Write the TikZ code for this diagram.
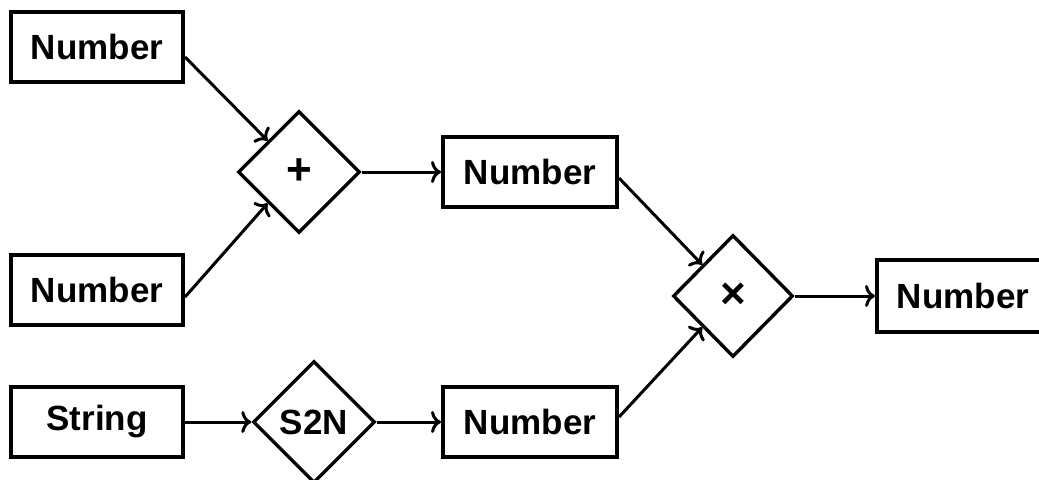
\documentclass[tikz,border=0pt]{standalone}
\usepackage{fontspec}
\setmainfont{Liberation Sans}
\usepackage{tikz}
\usetikzlibrary{shapes.geometric}
\usetikzlibrary{arrows.meta}

\begin{document}
\begin{tikzpicture}[x=0.5pt,y=-0.5pt,
    every node/.style={font=\bfseries\fontsize{17.5}{20}\selectfont, inner sep=0pt},
    box/.style = {rectangle, draw, line width=2pt, minimum width=86pt, minimum height=35pt},
    op/.style = {diamond, draw, line width=1.7pt, minimum width=61pt, minimum height=61pt},
    flow/.style = {draw, line width=1.5pt, -{To[length=5pt,width=11pt]}}]
    \useasboundingbox (0,0) rectangle (1039,479);
    \clip (0,0) rectangle (1039,479);
    % inputs
    \node [box] (numA) at (97,47) {Number};
    \node [box] (numB) at (97,290) {Number};
    \node [box] (str) at (97,422) {String};
    % operators
    \node [op] (plus) at (299,172) {\fontsize{22}{22}\selectfont +};
    \node [op] (conv) at (314,422) {S2N};
    \node [op, minimum width=60pt] (times) at (733,296) {\fontsize{22}{22}\selectfont ×};
    % results
    \node [box, minimum width=87pt] (sum) at (530,172) {Number};
    \node [box, minimum width=87pt] (val) at (530,422) {Number};
    \node [box, minimum height=36pt] (prod) at (963,296) {Number};
    % connectors
    \draw [flow] ([yshift=-5pt]numA.east) -- (plus.north west);
    \draw [flow] ([yshift=-3.5pt]numB.east) -- (plus.south west);
    \draw [flow] (plus.east) -- (sum.west);
    \draw [flow] (str.east) -- (conv.west);
    \draw [flow] (conv.east) -- (val.west);
    \draw [flow] ([yshift=-3pt]sum.east) -- (times.north west);
    \draw [flow] ([yshift=2.5pt]val.east) -- (times.south west);
    \draw [flow] (times.east) -- (prod.west);
\end{tikzpicture}
\end{document}
